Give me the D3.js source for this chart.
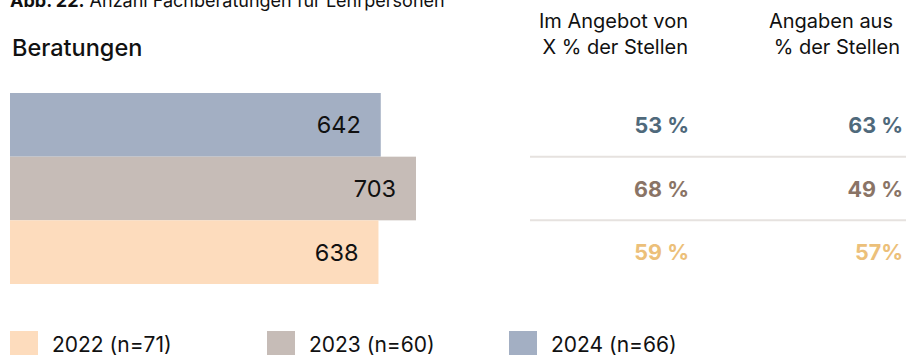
<!DOCTYPE html>
<html>
<head>
<meta charset="utf-8">
<script src="https://cdn.jsdelivr.net/npm/d3@7"></script>
<style>
  html, body { margin: 0; padding: 0; background: #fff; }
  svg { display: block; font-family: Inter, "Noto Sans", sans-serif; }
</style>
</head>
<body>
<svg id="chart" width="906" height="355"></svg>
<script>
// Jahrgänge (von oben nach unten gezeichnet)
const years = ["2024", "2023", "2022"];
// Anzahl Fachberatungen
const beratungen = [642, 703, 638];
// Im Angebot von X % der Stellen
const angebotPct = [53, 68, 59];
// Angaben aus % der Stellen
const angabenPct = [63, 49, 57];
const pctLabels = ["53 %", "68 %", "59 %"];
const angabenLabels = ["63 %", "49 %", "57%"];
// Legendenreihenfolge
const legendYears = ["2022", "2023", "2024"];
const legendN = [71, 60, 66];

const barColor = { "2024": "#a3afc3", "2023": "#c6bcb7", "2022": "#fddcbd" };
const textColor = { "2024": "#4f697b", "2023": "#8a7466", "2022": "#ecc07a" };

const svg = d3.select("#chart");

// Titel
const title = svg.append("text").attr("x", 10).attr("y", 6.5)
  .attr("font-size", 18).attr("fill", "#111");
title.append("tspan").attr("font-weight", 700).text("Abb. 22.");
title.append("tspan").text(" Anzahl Fachberatungen für Lehrpersonen");

svg.append("text").attr("x", 12).attr("y", 56)
  .attr("font-size", 23.5).attr("font-weight", 500).attr("fill", "#111")
  .text("Beratungen");

// Spaltenköpfe
const headers = [
  { lines: ["Im Angebot von", "X % der Stellen"], x: [688, 688] },
  { lines: ["Angaben aus", "% der Stellen"], x: [893, 900] }
];
headers.forEach(h => {
  h.lines.forEach((t, i) => {
    svg.append("text").attr("x", h.x[i]).attr("y", 28 + i * 26)
      .attr("text-anchor", "end").attr("font-size", 20).attr("fill", "#111")
      .text(t);
  });
});

// Skalen
const y = d3.scaleBand().domain(years).range([93, 284]).paddingInner(0);
const x = d3.scaleLinear().domain([0, 703]).range([10, 416]);

const rows = years.map((yr, i) => ({
  year: yr, value: beratungen[i], pctA: pctLabels[i], pctB: angabenLabels[i]
}));

// Balken
svg.selectAll("rect.bar").data(rows).join("rect")
  .attr("class", "bar")
  .attr("x", x(0))
  .attr("y", d => y(d.year))
  .attr("width", d => x(d.value) - x(0))
  .attr("height", y.bandwidth())
  .attr("fill", d => barColor[d.year]);

// Wertelabels in den Balken
svg.selectAll("text.val").data(rows).join("text")
  .attr("class", "val")
  .attr("x", d => x(d.value) - 20)
  .attr("y", d => y(d.year) + y.bandwidth() / 2 + 8.5)
  .attr("text-anchor", "end")
  .attr("font-size", 23.5)
  .attr("fill", "#111")
  .text(d => d.value);

// Trennlinien
years.slice(1).forEach(yr => {
  svg.append("line")
    .attr("x1", 530).attr("x2", 906)
    .attr("y1", y(yr)).attr("y2", y(yr))
    .attr("stroke", "#e6e2df").attr("stroke-width", 2);
});

// Prozentspalten
svg.selectAll("text.pa").data(rows).join("text")
  .attr("class", "pa")
  .attr("x", 689)
  .attr("y", d => y(d.year) + y.bandwidth() / 2 + 8)
  .attr("text-anchor", "end")
  .attr("font-size", 21.5).attr("font-weight", 700)
  .attr("fill", d => textColor[d.year])
  .text(d => d.pctA);

svg.selectAll("text.pb").data(rows).join("text")
  .attr("class", "pb")
  .attr("x", 903)
  .attr("y", d => y(d.year) + y.bandwidth() / 2 + 8)
  .attr("text-anchor", "end")
  .attr("font-size", 21.5).attr("font-weight", 700)
  .attr("fill", d => textColor[d.year])
  .text(d => d.pctB);

// Legende
const legX = [10, 267, 509];
const leg = svg.selectAll("g.leg").data(legendYears).join("g")
  .attr("class", "leg")
  .attr("transform", (d, i) => `translate(${legX[i]},331)`);
leg.append("rect").attr("width", 28).attr("height", 26)
  .attr("fill", d => barColor[d]);
leg.append("text").attr("x", 42).attr("y", 21)
  .attr("font-size", 21).attr("fill", "#111")
  .text((d, i) => `${d} (n=${legendN[i]})`);
</script>
</body>
</html>
